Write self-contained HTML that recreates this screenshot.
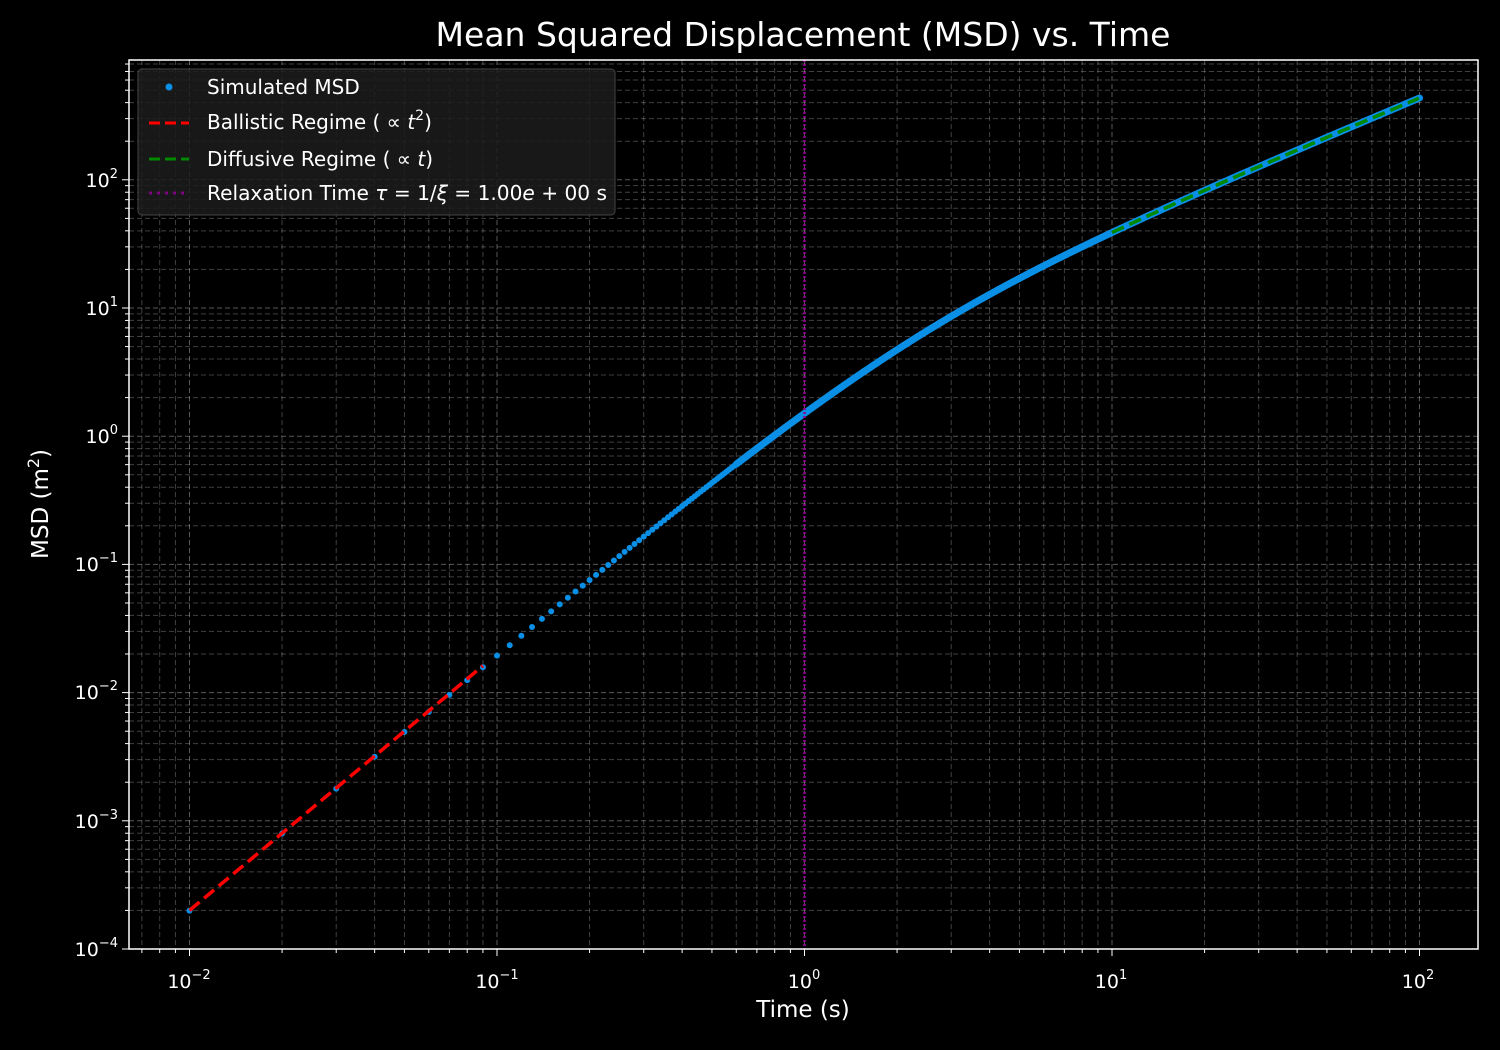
<!DOCTYPE html>
<html><head><meta charset="utf-8"><style>
body{margin:0;background:#000;width:1500px;height:1050px;overflow:hidden}
svg{display:block}
text{font-family:"DejaVu Sans","Liberation Sans",sans-serif;fill:#fff}
</style></head><body>
<svg id="s" width="1500" height="1050" xmlns="http://www.w3.org/2000/svg">
<rect width="1500" height="1050" fill="#000"/>
<g id="grid"></g>
<g id="data"></g>
<rect x="129" y="60" width="1349" height="889" fill="none" stroke="#fff" stroke-width="1.5"/>
<g id="ticks"></g>
<text x="803" y="46" font-size="33" text-anchor="middle">Mean Squared Displacement (MSD) vs. Time</text>
<text x="803" y="1017" font-size="23" text-anchor="middle">Time (s)</text>
<text transform="translate(48,504) rotate(-90)" font-size="23" text-anchor="middle">MSD (m<tspan font-size="16" dy="-9">2</tspan><tspan dy="9">)</tspan></text>
<g font-size="19" text-anchor="middle">
<text x="189" y="988">10<tspan font-size="13" dy="-9">−2</tspan></text>
<text x="497" y="988">10<tspan font-size="13" dy="-9">−1</tspan></text>
<text x="804" y="988">10<tspan font-size="13" dy="-9">0</tspan></text>
<text x="1111" y="988">10<tspan font-size="13" dy="-9">1</tspan></text>
<text x="1418" y="988">10<tspan font-size="13" dy="-9">2</tspan></text>
</g>
<g font-size="19" text-anchor="end">
<text x="118" y="956">10<tspan font-size="13" dy="-9">−4</tspan></text>
<text x="118" y="828">10<tspan font-size="13" dy="-9">−3</tspan></text>
<text x="118" y="699">10<tspan font-size="13" dy="-9">−2</tspan></text>
<text x="118" y="571">10<tspan font-size="13" dy="-9">−1</tspan></text>
<text x="118" y="443">10<tspan font-size="13" dy="-9">0</tspan></text>
<text x="118" y="315">10<tspan font-size="13" dy="-9">1</tspan></text>
<text x="118" y="187">10<tspan font-size="13" dy="-9">2</tspan></text>
</g>
<rect x="138" y="69" width="477" height="146" rx="4" fill="#1c1c1c" fill-opacity="0.85" stroke="#444"/>
<circle cx="169" cy="87" r="3.5" fill="#0a8fe6"/>
<line x1="149" y1="123" x2="189" y2="123" stroke="#f00" stroke-width="3" stroke-dasharray="11,5"/>
<line x1="149" y1="159" x2="189" y2="159" stroke="#080" stroke-width="3" stroke-dasharray="11,5"/>
<line x1="149" y1="193" x2="189" y2="193" stroke="#800080" stroke-width="3" stroke-dasharray="3,5"/>
<g font-size="20">
<text x="207" y="94">Simulated MSD</text>
<text x="207" y="129">Ballistic Regime ( ∝ <tspan font-style="italic">t</tspan><tspan font-size="14" dy="-9">2</tspan><tspan dy="9">)</tspan></text>
<text x="207" y="166">Diffusive Regime ( ∝ <tspan font-style="italic">t</tspan>)</text>
<text x="207" y="200" textLength="400" lengthAdjust="spacingAndGlyphs">Relaxation Time <tspan font-style="italic">τ</tspan> = 1/<tspan font-style="italic">ξ</tspan> = 1.00<tspan font-style="italic">e</tspan> + 00 s</text>
</g>
</svg>
<script>
const NS="http://www.w3.org/2000/svg";
const X=t=>189.5+307.5*(Math.log10(t)+2);
const Y=v=>949-128.2*(Math.log10(v)+4);
function el(p,n,a){const e=document.createElementNS(NS,n);for(const k in a)e.setAttribute(k,a[k]);p.appendChild(e);return e;}
const g=document.getElementById('grid'),tk=document.getElementById('ticks'),d=document.getElementById('data');
for(let e=-3;e<=2;e++)for(let m=1;m<10;m++){const t=m*Math.pow(10,e),x=X(t);if(x<130||x>1477)continue;
 el(g,'line',{x1:x,y1:60,x2:x,y2:949,stroke:'#fff','stroke-opacity':m==1?0.35:0.25,'stroke-width':1,'stroke-dasharray':'5,3'});
 el(tk,'line',{x1:x,y1:949,x2:x,y2:m==1?956:953,stroke:'#fff','stroke-width':1});}
for(let e=-4;e<=2;e++)for(let m=1;m<10;m++){const v=m*Math.pow(10,e),y=Y(v);if(y<61||y>949)continue;
 el(g,'line',{x1:129,y1:y,x2:1478,y2:y,stroke:'#fff','stroke-opacity':m==1?0.35:0.25,'stroke-width':1,'stroke-dasharray':'5,3'});
 el(tk,'line',{x1:129,y1:y,x2:m==1?122:125,y2:y,stroke:'#fff','stroke-width':1});}
const f=t=>4*(t-1+Math.exp(-t))*(1+0.1*t/(t+3));
for(let i=1;i<=80;i++){const t=i/100;el(d,'circle',{cx:X(t),cy:Y(f(t)),r:3,fill:'#0a8fe6'});}
let p=[];for(let t=0.6;t<=100;t*=1.005)p.push(X(t).toFixed(1)+','+Y(f(t)).toFixed(1));p.push(X(100)+','+Y(f(100)));
el(d,'polyline',{points:p.join(' '),fill:'none',stroke:'#0a8fe6','stroke-width':7,'stroke-linecap':'round','stroke-linejoin':'round'});
el(d,'line',{x1:X(0.01),y1:Y(2e-4),x2:X(0.09),y2:Y(2*0.0081),stroke:'#f00','stroke-width':3.5,'stroke-dasharray':'13,6'});
let q=[];for(let t=10;t<=100;t*=1.02)q.push(X(t).toFixed(1)+','+Y(f(t)).toFixed(1));
el(d,'polyline',{points:q.join(' '),fill:'none',stroke:'#080','stroke-width':3.5,'stroke-dasharray':'13,6'});
el(d,'line',{x1:X(1),y1:60,x2:X(1),y2:949,stroke:'#900090','stroke-width':2.5,'stroke-dasharray':'2,2'});
</script>
</body></html>
